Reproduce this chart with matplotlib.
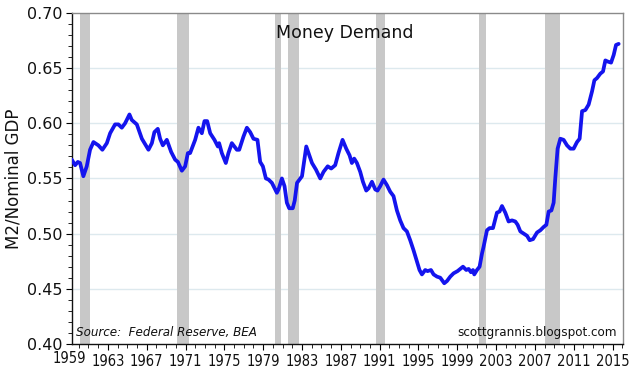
import matplotlib
matplotlib.use("Agg")
import matplotlib.pyplot as plt
from matplotlib.ticker import MultipleLocator, FixedLocator
import numpy as np

years = [1959.28, 1959.62, 1959.90, 1960.13, 1960.47, 1960.82, 1961.16, 1961.51, 1962.02, 1962.43,
         1962.89, 1963.23, 1963.74, 1964.08, 1964.43, 1964.77, 1965.22, 1965.46, 1965.98, 1966.50,
         1967.18, 1967.53, 1967.79, 1968.14, 1968.38, 1968.66, 1969.07, 1969.52, 1969.93, 1970.21,
         1970.62, 1970.96, 1971.24, 1971.47, 1971.99, 1972.33, 1972.68, 1972.95, 1973.23, 1973.54,
         1973.98, 1974.33, 1974.46, 1974.74, 1975.15, 1975.42, 1975.77, 1976.29, 1976.53, 1976.97,
         1977.32, 1977.66, 1978.00, 1978.41, 1978.69, 1978.97, 1979.28, 1979.55, 1979.90, 1980.41,
         1980.58, 1980.93, 1981.20, 1981.44, 1981.68, 1982.05, 1982.25, 1982.49, 1983.00, 1983.44,
         1983.68, 1984.03, 1984.44, 1984.88, 1985.22, 1985.65, 1986.01, 1986.42, 1986.76, 1987.18,
         1987.56, 1987.90, 1988.14, 1988.38, 1988.66, 1989.00, 1989.28, 1989.62, 1989.86, 1990.21,
         1990.55, 1990.78, 1991.06, 1991.40, 1991.75, 1992.09, 1992.43, 1992.78, 1993.12, 1993.46,
         1993.81, 1994.15, 1994.49, 1994.84, 1995.11, 1995.36, 1995.70, 1995.94, 1996.29, 1996.56,
         1996.91, 1997.25, 1997.66, 1997.94, 1998.28, 1998.62, 1999.03, 1999.31, 1999.59, 1999.93,
         2000.17, 2000.41, 2000.62, 2000.75, 2001.03, 2001.30, 2001.55, 2001.71, 2002.06, 2002.33,
         2002.68, 2003.09, 2003.36, 2003.61, 2003.95, 2004.29, 2004.64, 2004.98, 2005.22, 2005.50,
         2005.84, 2006.19, 2006.46, 2006.81, 2007.22, 2007.56, 2007.90, 2008.18, 2008.42, 2008.70,
         2008.93, 2009.10, 2009.34, 2009.62, 2009.96, 2010.31, 2010.65, 2010.99, 2011.34, 2011.61,
         2011.86, 2012.20, 2012.54, 2012.89, 2013.13, 2013.40, 2013.74, 2014.02, 2014.26, 2014.50,
         2014.85, 2015.12, 2015.36, 2015.63]

m2_gdp = [0.567, 0.562, 0.565, 0.564, 0.552, 0.561, 0.576, 0.583, 0.580, 0.576,
          0.582, 0.591, 0.599, 0.599, 0.596, 0.600, 0.608, 0.603, 0.599, 0.586,
          0.576, 0.582, 0.592, 0.595, 0.586, 0.580, 0.585, 0.574, 0.567, 0.565,
          0.557, 0.561, 0.573, 0.573, 0.585, 0.596, 0.591, 0.602, 0.602, 0.591,
          0.585, 0.579, 0.582, 0.573, 0.564, 0.573, 0.582, 0.576, 0.576, 0.588,
          0.596, 0.592, 0.586, 0.585, 0.565, 0.561, 0.550, 0.549, 0.546, 0.537,
          0.540, 0.550, 0.543, 0.528, 0.523, 0.523, 0.530, 0.546, 0.552, 0.579,
          0.573, 0.564, 0.558, 0.550, 0.556, 0.561, 0.559, 0.562, 0.573, 0.585,
          0.577, 0.571, 0.564, 0.568, 0.564, 0.556, 0.547, 0.539, 0.541, 0.547,
          0.540, 0.539, 0.543, 0.549, 0.544, 0.538, 0.534, 0.521, 0.512, 0.505,
          0.502, 0.494, 0.485, 0.475, 0.467, 0.463, 0.467, 0.466, 0.467, 0.463,
          0.461, 0.460, 0.455, 0.457, 0.461, 0.464, 0.466, 0.468, 0.470, 0.467,
          0.468, 0.465, 0.467, 0.463, 0.467, 0.470, 0.482, 0.488, 0.503, 0.505,
          0.505, 0.519, 0.520, 0.525, 0.519, 0.511, 0.512, 0.511, 0.508, 0.502,
          0.500, 0.498, 0.494, 0.495, 0.501, 0.503, 0.506, 0.508, 0.520, 0.521,
          0.528, 0.550, 0.577, 0.586, 0.585, 0.580, 0.577, 0.577, 0.583, 0.586,
          0.611, 0.612, 0.617, 0.629, 0.639, 0.641, 0.645, 0.647, 0.657, 0.656,
          0.655, 0.662, 0.671, 0.672]

rec_start = [1960.16, 1970.17, 1980.24, 1981.55, 1990.65, 2001.24, 2008.07]
rec_end = [1961.20, 1971.34, 1980.86, 1982.71, 1991.51, 2001.96, 2009.55]

xtick_years = [1959, 1963, 1967, 1971, 1975, 1979, 1983, 1987, 1991, 1995, 1999, 2003, 2007, 2011, 2015]
ytick_vals = [0.40, 0.45, 0.50, 0.55, 0.60, 0.65, 0.70]

narrow = dict(family="DejaVu Sans", stretch="condensed")

fig = plt.figure(figsize=(6.4, 3.71), dpi=100)
ax = fig.add_axes([0.1125, 0.073, 0.8605, 0.892])

for s, e in zip(rec_start, rec_end):
    ax.axvspan(s, e, color="#c8c8c8", lw=0, zorder=1)

for v in ytick_vals[1:-1]:
    ax.axhline(v, color="#dde9ee", lw=1.0, zorder=0.5)

ax.plot(years, m2_gdp, color="#1414ee", lw=2.7, solid_joinstyle="round",
        solid_capstyle="round", zorder=3)

ax.set_xlim(1959.3, 2016.05)
ax.set_ylim(0.40, 0.70)

ax.xaxis.set_major_locator(FixedLocator(xtick_years[1:]))
ax.xaxis.set_minor_locator(MultipleLocator(1))
ax.yaxis.set_major_locator(FixedLocator(ytick_vals))
ax.yaxis.set_minor_locator(MultipleLocator(0.01))
ax.set_yticklabels([f"{v:.2f}" for v in ytick_vals], fontsize=11.5, color="#111111")
ax.set_xticklabels([str(y) for y in xtick_years[1:]], fontsize=10.5, color="#111111",
                   **narrow)
ax.tick_params(axis="y", which="major", direction="out", length=4, width=0.8, pad=3)
ax.tick_params(axis="y", which="minor", direction="out", length=3, width=0.6)
ax.tick_params(axis="x", which="major", direction="out", length=4, width=0.8, pad=3.5)
ax.tick_params(axis="x", which="minor", direction="out", length=3, width=0.6)

# first year label sits just left of the axis start
ax.text(xtick_years[0], -0.0205, str(xtick_years[0]), transform=ax.get_xaxis_transform(),
        ha="center", va="top", fontsize=10.5, color="#111111", clip_on=False, **narrow)

for side in ("top", "right"):
    ax.spines[side].set_color("#8a8a8a")
    ax.spines[side].set_linewidth(1.0)
for side in ("left", "bottom"):
    ax.spines[side].set_color("#111111")
    ax.spines[side].set_linewidth(1.0)

ax.set_ylabel("M2/Nominal GDP", fontsize=12, color="#111111", labelpad=3)

ax.text(0.495, 0.94, "Money Demand", transform=ax.transAxes, ha="center", va="center",
        fontsize=12.5, color="#111111")
ax.text(0.008, 0.035, "Source:  Federal Reserve, BEA", transform=ax.transAxes, ha="left",
        va="center", fontsize=9.5, style="italic", color="#111111", **narrow)
ax.text(0.99, 0.035, "scottgrannis.blogspot.com", transform=ax.transAxes, ha="right",
        va="center", fontsize=9.5, color="#111111", **narrow)

fig.savefig("out.png", dpi=100)
